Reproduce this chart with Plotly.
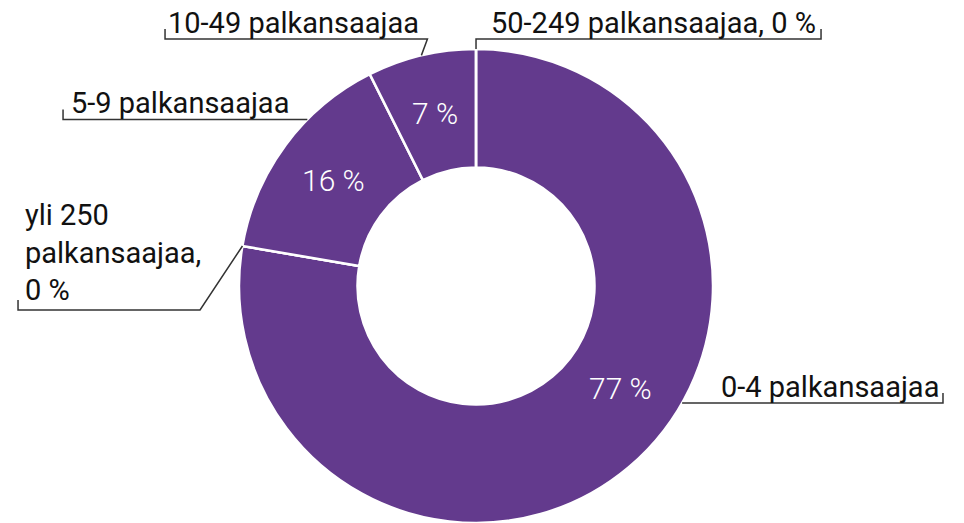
import math
import plotly.graph_objects as go

# ---- data ----
categories = ["0-4 palkansaajaa", "yli 250 palkansaajaa", "5-9 palkansaajaa",
              "10-49 palkansaajaa", "50-249 palkansaajaa"]
shares = [77.7, 0.0, 14.9, 7.4, 0.0]
pct_labels = ["77 %", "0 %", "16 %", "7 %", "0 %"]
outer_texts = ["0-4 palkansaajaa", "yli 250<br>palkansaajaa,<br>0 %", "5-9 palkansaajaa",
               "10-49 palkansaajaa", "50-249 palkansaajaa, 0 %"]

# ---- layout / style ----
OFF = 0                 # page body margin removed by post_script
W, H = 964, 523
CX, CY, R = 476, 286, 237   # screen pixels
HOLE = 0.5
PURPLE = "#633a8d"
LINE = "#333333"
FONT = "Roboto"

# per-label placement of the outer labels (screen pixels)
label_cfg = [
    dict(side="right", uy=403, tick_x=943, text_x=940, text_dy=2),
    dict(side="left", uy=310, tick_x=18, text_x=24, text_dy=-2, elbow_x=200),
    dict(side="left", uy=119.5, tick_x=63, text_x=70, text_dy=2),
    dict(side="left", uy=39, tick_x=165, text_x=167, text_dy=2, elbow_dx=6),
    dict(side="right", uy=39, tick_x=821, text_x=817, text_dy=2, elbow_dx=0),
]
inner_angle_shift = {0: -14.5}


def px(x):
    return (x - OFF) / W


def py(y):
    return 1 - (y - OFF) / H


def pt(angle_deg, r):
    a = math.radians(angle_deg)
    return CX + r * math.sin(a), CY - r * math.cos(a)


total = sum(shares)
fig = go.Figure()
fig.add_trace(go.Pie(
    labels=categories, values=shares, sort=False, direction="clockwise", rotation=0,
    hole=HOLE, textinfo="none", hoverinfo="skip",
    marker=dict(colors=[PURPLE] * len(shares), line=dict(color="white", width=2.5)),
    domain=dict(x=[0, 2 * (CX - OFF) / W], y=[max(0, py(CY + R)), py(CY - R)]),
    showlegend=False,
))

shapes, annotations = [], []
cum = 0.0
for i, v in enumerate(shares):
    a0 = 360 * cum / total
    a1 = a0 + 360 * v / total
    cum += v
    mid = (a0 + a1) / 2

    # inner percentage label
    if v >= 1:
        ang = mid + inner_angle_shift.get(i, 0)
        x, y = pt(ang, R * (1 + HOLE) / 2)
        annotations.append(dict(
            x=px(x), y=py(y), xref="paper", yref="paper", showarrow=False,
            text=pct_labels[i], xanchor="center", yanchor="middle",
            font=dict(family=FONT, size=30, color="white", weight=300)))

    # outer label with connector
    c = label_cfg[i]
    uy = c["uy"]
    anchor = None
    if v > 0 and abs(CY - uy) < R:
        dx = math.sqrt(R ** 2 - (CY - uy) ** 2)
        ix = CX + dx if c["side"] == "right" else CX - dx
        iang = math.degrees(math.atan2(ix - CX, CY - uy)) % 360
        if a0 <= iang <= a1:
            anchor = (ix, uy)
            elbow = (ix, uy)
    if anchor is None:
        anchor = pt(mid, R)
        if "elbow_x" in c:
            elbow = (c["elbow_x"], uy)
        else:
            elbow = (anchor[0] + c.get("elbow_dx", 0), uy)
    tx = c["tick_x"]
    path = "M {:.4f},{:.4f} L {:.4f},{:.4f} L {:.4f},{:.4f} L {:.4f},{:.4f}".format(
        px(anchor[0]), py(anchor[1]), px(elbow[0]), py(elbow[1]),
        px(tx), py(uy), px(tx), py(uy - 10))
    shapes.append(dict(type="path", path=path, xref="paper", yref="paper",
                       line=dict(color=LINE, width=1.5)))
    annotations.append(dict(
        x=px(c["text_x"]), y=py(uy + c["text_dy"]), xref="paper", yref="paper",
        showarrow=False, text=outer_texts[i], borderpad=0,
        xanchor="right" if c["side"] == "right" else "left", yanchor="bottom",
        align="left", font=dict(family=FONT, size=29, color="#111111")))

fig.update_layout(
    width=W, height=H, margin=dict(l=0, r=0, t=0, b=0),
    paper_bgcolor="white", plot_bgcolor="white",
    shapes=shapes, annotations=annotations,
)
fig.write_html("out.html", config={"displayModeBar": False},
               post_script="document.body.style.margin='0';document.body.style.overflow='hidden';")
